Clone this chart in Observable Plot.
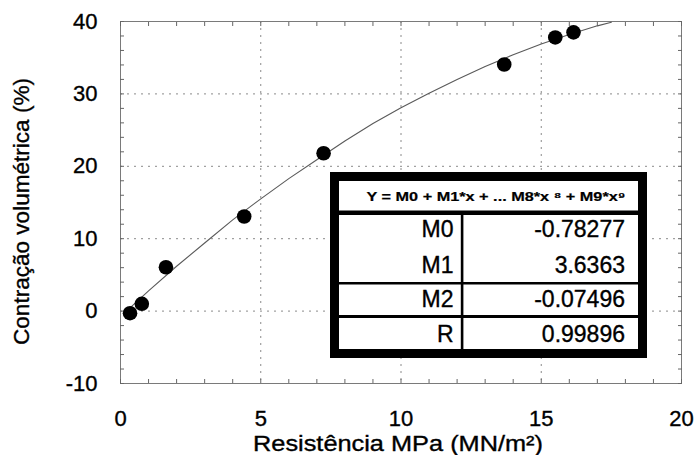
<!DOCTYPE html>
<html>
<head>
<meta charset="utf-8">
<script src="https://cdn.jsdelivr.net/npm/d3@7"></script>
<script src="https://cdn.jsdelivr.net/npm/@observablehq/plot@0.6"></script>
<style>
  html, body { margin: 0; padding: 0; background: #fff; }
  svg { display: block; }
  svg text { stroke: #000; stroke-width: 0.35px; }
</style>
</head>
<body>
<div id="chart"></div>
<script>
// Measured data points
const pointX = [0.34, 0.76, 1.62, 4.41, 7.24, 13.68, 15.50, 16.15];
const pointY = [-0.29, 1.01, 6.06, 13.07, 21.8, 34.06, 37.8, 38.5];

// Fitted curve
const curveX = [0.3, 1, 2, 3, 4, 5, 6, 7, 8, 9, 10, 11, 12, 13, 14, 15, 16, 17, 17.5];
const curveY = [0.3, 2.8, 6.2, 9.4, 12.6, 15.5, 18.3, 20.9, 23.5, 25.9, 28.1, 30.1, 32.0, 33.8, 35.4, 36.9, 38.2, 39.4, 39.9];

// Axis ticks
const xTickLabels = [0, 5, 10, 15, 20];
const yTickLabels = [-10, 0, 10, 20, 30, 40];
const xMinorTicks = d3.range(0, 21, 1);
const yMinorTicks = d3.range(-10, 41, 2);
const xGrid = [5, 10, 15];
const yGrid = [0, 10, 20, 30];

// Table content
const tableHeader = "Y = M0 + M1*x + ... M8*x \u2078 + M9*x\u2079";
const coefNames = ["M0", "M1", "M2", "R"];
const coefValues = ["-0.78277", "3.6363", "-0.07496", "0.99896"];

const xLabel = "Resistência MPa (MN/m²)";
const yLabel = "Contração volumétrica (%)";

const points = pointX.map((x, i) => ({x, y: pointY[i]}));
const curve = curveX.map((x, i) => ({x, y: curveY[i]}));

const font = "'Liberation Sans', Arial, Helvetica, sans-serif";
const fmt = d => `${d}`;

const svg = Plot.plot({
  width: 698,
  height: 455,
  marginLeft: 120,
  marginRight: 17,
  marginTop: 21,
  marginBottom: 72,
  style: {fontFamily: font, background: "#fff", color: "#000"},
  x: {domain: [0, 20]},
  y: {domain: [-10, 40]},
  marks: [
    Plot.ruleX(xGrid, {stroke: "#8a8a8a", strokeDasharray: "2,5", strokeWidth: 1}),
    Plot.ruleY(yGrid, {stroke: "#8a8a8a", strokeDasharray: "2,5", strokeWidth: 1}),
    Plot.frame({stroke: "#7a7a7a"}),
    Plot.axisX({anchor: "bottom", ticks: xMinorTicks, tickSize: -4, text: null, label: null, stroke: "#666"}),
    Plot.axisX({anchor: "top", ticks: xMinorTicks, tickSize: -4, text: null, label: null, stroke: "#666"}),
    Plot.axisY({anchor: "left", ticks: yMinorTicks, tickSize: -4, text: null, label: null, stroke: "#666"}),
    Plot.axisY({anchor: "right", ticks: yMinorTicks, tickSize: -4, text: null, label: null, stroke: "#666"}),
    Plot.axisX({anchor: "bottom", ticks: xTickLabels, tickSize: 0, tickPadding: 27, tickFormat: fmt, fontSize: 22, fill: "#000", label: null}),
    Plot.axisY({anchor: "left", ticks: yTickLabels, tickSize: 0, tickPadding: 23, tickFormat: fmt, fontSize: 22, fill: "#000", label: null}),
    Plot.line(curve, {x: "x", y: "y", stroke: "#5a5a5a", strokeWidth: 1.1}),
    Plot.dot(points, {x: "x", y: "y", r: 7.3, fill: "#000", stroke: "none"})
  ]
});

document.getElementById("chart").appendChild(svg);

const s = d3.select(svg);

// Axis labels
s.append("text")
  .attr("x", 398).attr("y", 451)
  .attr("text-anchor", "middle")
  .attr("font-family", font).attr("font-size", 22)
  .attr("textLength", 290).attr("lengthAdjust", "spacingAndGlyphs")
  .attr("fill", "#000")
  .text(xLabel);

s.append("text")
  .attr("transform", "translate(29,211.5) rotate(-90)")
  .attr("text-anchor", "middle")
  .attr("font-family", font).attr("font-size", 22.5)
  .attr("textLength", 267).attr("lengthAdjust", "spacingAndGlyphs")
  .attr("fill", "#000")
  .text(yLabel);

// Coefficient table
const t = s.append("g");
t.append("rect").attr("x", 330).attr("y", 172).attr("width", 317).attr("height", 186).attr("fill", "#000");
t.append("rect").attr("x", 339).attr("y", 181).attr("width", 299).attr("height", 168).attr("fill", "#fff");
t.append("rect").attr("x", 339).attr("y", 210.5).attr("width", 299).attr("height", 4.5).attr("fill", "#000");
t.append("rect").attr("x", 339).attr("y", 282).attr("width", 299).attr("height", 2.5).attr("fill", "#000");
t.append("rect").attr("x", 339).attr("y", 315).attr("width", 299).attr("height", 3).attr("fill", "#000");
t.append("rect").attr("x", 460.8).attr("y", 214).attr("width", 2.6).attr("height", 136).attr("fill", "#000");

t.append("text")
  .attr("x", 496).attr("y", 200.7)
  .attr("text-anchor", "middle")
  .attr("font-family", font).attr("font-size", 12.5).attr("font-weight", "bold")
  .attr("textLength", 259).attr("lengthAdjust", "spacingAndGlyphs")
  .attr("fill", "#000")
  .style("stroke-width", "0.2px")
  .text(tableHeader);

const rowBase = [236.6, 273, 307.4, 342.4];
coefNames.forEach((n, i) => {
  t.append("text")
    .attr("x", 453.5).attr("y", rowBase[i])
    .attr("text-anchor", "end")
    .attr("font-family", font).attr("font-size", 23)
    .attr("fill", "#000")
    .text(n);
  t.append("text")
    .attr("x", 625).attr("y", rowBase[i])
    .attr("text-anchor", "end")
    .attr("font-family", font).attr("font-size", 23)
    .attr("fill", "#000")
    .text(coefValues[i]);
});
</script>
</body>
</html>
